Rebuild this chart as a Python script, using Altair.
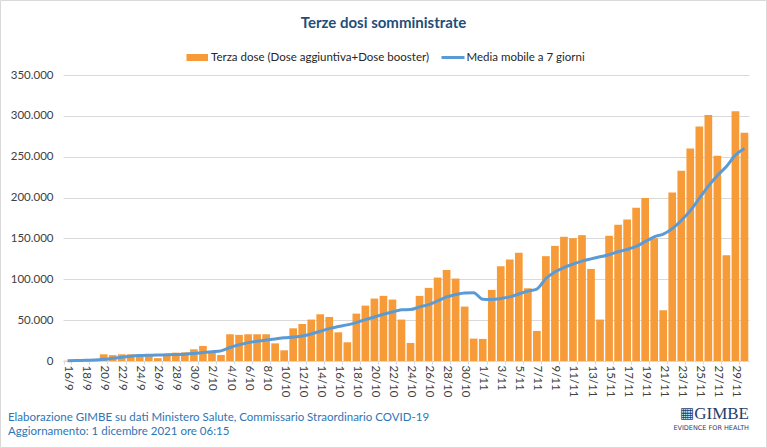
import altair as alt
import pandas as pd

# ---- data ----
dates = (
    [f"{d}/9" for d in range(16, 31)]
    + [f"{d}/10" for d in range(1, 32)]
    + [f"{d}/11" for d in range(1, 31)]
)

terza_dose = [
    300, 400, 500, 600, 8200, 7200, 8200, 8200, 7800, 6500,
    3500, 7500, 10200, 10600, 14300, 18400, 12300, 7400, 32700, 32000,
    32700, 32700, 32700, 21600, 13100, 40000, 45300, 50700, 57200, 53900,
    35100, 22900, 58000, 67800, 76400, 79700, 75200, 50700, 22100, 79700,
    89500, 102100, 111500, 100900, 66600, 27400, 27000, 87000, 116000, 124200,
    132400, 89000, 36800, 128300, 140900, 152000, 150300, 154000, 112700, 50700,
    153200, 166700, 173200, 187500, 199500, 150300, 62100, 206300, 232800, 260000,
    287000, 301100, 251200, 129500, 305600, 279200,
]

media_mobile = [
    300, 500, 800, 1100, 2000, 3300, 4600, 5800, 6600, 7000,
    7300, 7600, 7900, 8400, 9200, 10300, 11300, 12400, 16500, 19800,
    22500, 24200, 25600, 27000, 28400, 29300, 30600, 33100, 36400, 39600,
    42300, 44200, 47000, 50700, 53900, 57200, 60000, 62700, 63000, 66200,
    69000, 73500, 78400, 81300, 83300, 83600, 75500, 75200, 76400, 78500,
    82000, 85500, 88000, 101000, 109000, 114400, 118500, 122200, 125000, 127500,
    130000, 133700, 136500, 140200, 146000, 152000, 155300, 162000, 172000, 184000,
    199000, 214000, 227000, 238000, 252000, 260000,
]

y_ticks = [0, 50000, 100000, 150000, 200000, 250000, 300000, 350000]

title_text = "Terze dosi somministrate"
legend_bar = "Terza dose (Dose aggiuntiva+Dose booster)"
legend_line = "Media mobile a 7 giorni"
footer_1 = "Elaborazione GIMBE su dati Ministero Salute, Commissario Straordinario COVID-19"
footer_2 = "Aggiornamento: 1 dicembre 2021 ore 06:15"

df = pd.DataFrame({"data": dates, "terza": terza_dose, "media": media_mobile})

FONT = "Lato"
ORANGE = "#F79B38"
BLUE = "#5B9BD5"

x_enc = alt.X(
    "data:N",
    sort=None,
    scale=alt.Scale(paddingInner=0.15, paddingOuter=0.08),
    axis=alt.Axis(
        title=None,
        values=dates[::2],
        labelAngle=90,
        labelAlign="left",
        labelBaseline="middle",
        labelFont=FONT,
        labelFontSize=11.5,
        labelColor="#404040",
        labelPadding=1,
        domainColor="#D9D9D9",
        tickColor="#D9D9D9",
        tickSize=3,
        tickBand="extent",
        grid=False,
    ),
)

y_scale = alt.Scale(domain=[0, 350000], nice=False)

bars = alt.Chart(df).mark_bar(color=ORANGE).encode(
    x=x_enc,
    y=alt.Y(
        "terza:Q",
        scale=y_scale,
        axis=alt.Axis(
            title=None,
            values=y_ticks,
            labelExpr="replace(format(datum.value, ','), ',', '.')",
            labelFont=FONT,
            labelFontSize=11.5,
            labelColor="#404040",
            labelPadding=10,
            domain=False,
            ticks=False,
            grid=True,
            gridColor="#D9D9D9",
            gridWidth=1,
        ),
    ),
)

line = alt.Chart(df).mark_line(
    color=BLUE, strokeWidth=3, interpolate="monotone"
).encode(
    x=alt.X("data:N", sort=None),
    y=alt.Y("media:Q", scale=y_scale),
)


def label(text, x, y, size, color, weight="normal", align="left", font=FONT, **kw):
    return alt.Chart(pd.DataFrame({"t": [text]})).mark_text(
        align=align, baseline="middle", font=font, fontSize=size,
        color=color, fontWeight=weight, **kw
    ).encode(text="t:N", x=alt.value(x), y=alt.value(y))


one = pd.DataFrame({"k": [0]})

title = label(title_text, 320.5, -52, 15, "#1F4E79", weight="bold", align="center")

leg_rect = alt.Chart(one).mark_rect(color=ORANGE).encode(
    x=alt.value(123.5), x2=alt.value(145), y=alt.value(-21), y2=alt.value(-14)
)
leg_text1 = label(legend_bar, 148, -17.5, 11.5, "#262626")
leg_rule = alt.Chart(one).mark_rule(color=BLUE, strokeWidth=3).encode(
    x=alt.value(378.5), x2=alt.value(401.5), y=alt.value(-17.5)
)
leg_text2 = label(legend_line, 403.5, -17.5, 11.5, "#262626")

foot1 = label(footer_1, -55, 343, 11.5, "#2E75B6")
foot2 = label(footer_2, -55, 357, 11.5, "#2E75B6")

logo_icon = label("\u25A6", 617, 338, 15, "#1F3E6E", font="DejaVu Sans")
logo_text = label("GIMBE", 686, 339, 17, "#1F3E6E", align="right", font="Liberation Serif")
logo_sub = label("EVIDENCE FOR HEALTH", 686, 353, 6.5, "#1F3E6E", align="right", font="DejaVu Sans")

border = alt.Chart(one).mark_rect(fill=None, stroke="#D9D9D9", strokeWidth=1).encode(
    x=alt.value(-62.5), x2=alt.value(703.5), y=alt.value(-74.5), y2=alt.value(372.5)
)

chart = alt.layer(
    bars, line, title, leg_rect, leg_text1, leg_rule, leg_text2,
    foot1, foot2, logo_icon, logo_text, logo_sub, border,
).properties(
    width=686,
    height=286,
    autosize=alt.AutoSizeParams(type="none"),
    padding={"left": 63, "top": 75, "right": 18, "bottom": 87},
    background="white",
).configure_view(stroke=None)

chart.save("out.html", embed_options={"renderer": "svg", "actions": False})
